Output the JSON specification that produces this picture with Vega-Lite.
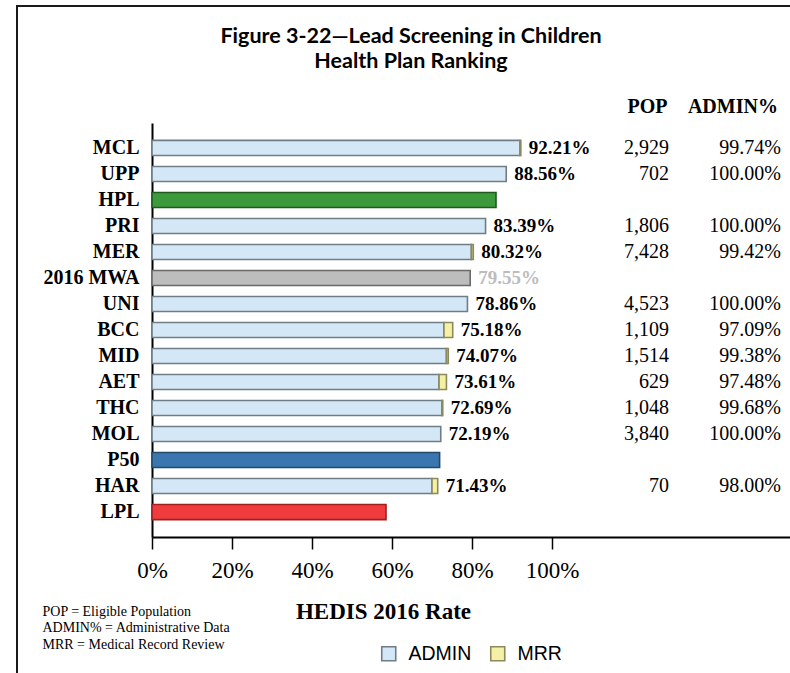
{
  "$schema": "https://vega.github.io/schema/vega-lite/v6.json",
  "width": 773,
  "height": 667,
  "autosize": {"type": "none"},
  "padding": {"left": 17, "top": 6, "right": 0, "bottom": 0},
  "background": "white",
  "config": {
    "view": {"stroke": "#1a1a1a", "strokeWidth": 2, "strokeDash": [773, 1440, 667]},
    "axis": {"grid": false}
  },
  "title": {
    "text": ["Figure 3-22\u2014Lead Screening in Children", "Health Plan Ranking"],
    "font": "Lato",
    "fontWeight": "bold",
    "fontSize": 21.5,
    "lineHeight": 25,
    "color": "black",
    "anchor": "middle",
    "frame": "group",
    "offset": -66,
    "dx": 7.5
  },
  "datasets": {
    "plans": [
      {"plan": "MCL", "kind": "plan", "rate": 0.9221, "pop": 2929, "admin": 0.9974},
      {"plan": "UPP", "kind": "plan", "rate": 0.8856, "pop": 702, "admin": 1.0},
      {"plan": "HPL", "kind": "HPL", "rate": 0.86},
      {"plan": "PRI", "kind": "plan", "rate": 0.8339, "pop": 1806, "admin": 1.0},
      {"plan": "MER", "kind": "plan", "rate": 0.8032, "pop": 7428, "admin": 0.9942},
      {"plan": "2016 MWA", "kind": "MWA", "rate": 0.7955},
      {"plan": "UNI", "kind": "plan", "rate": 0.7886, "pop": 4523, "admin": 1.0},
      {"plan": "BCC", "kind": "plan", "rate": 0.7518, "pop": 1109, "admin": 0.9709},
      {"plan": "MID", "kind": "plan", "rate": 0.7407, "pop": 1514, "admin": 0.9938},
      {"plan": "AET", "kind": "plan", "rate": 0.7361, "pop": 629, "admin": 0.9748},
      {"plan": "THC", "kind": "plan", "rate": 0.7269, "pop": 1048, "admin": 0.9968},
      {"plan": "MOL", "kind": "plan", "rate": 0.7219, "pop": 3840, "admin": 1.0},
      {"plan": "P50", "kind": "P50", "rate": 0.719},
      {"plan": "HAR", "kind": "plan", "rate": 0.7143, "pop": 70, "admin": 0.98},
      {"plan": "LPL", "kind": "LPL", "rate": 0.585}
    ],
    "segments": [
      {"plan": "MCL", "part": "ADMIN", "value": 0.9197},
      {"plan": "MCL", "part": "MRR", "value": 0.0024},
      {"plan": "UPP", "part": "ADMIN", "value": 0.8856},
      {"plan": "HPL", "part": "HPL", "value": 0.86},
      {"plan": "PRI", "part": "ADMIN", "value": 0.8339},
      {"plan": "MER", "part": "ADMIN", "value": 0.7985},
      {"plan": "MER", "part": "MRR", "value": 0.0047},
      {"plan": "2016 MWA", "part": "MWA", "value": 0.7955},
      {"plan": "UNI", "part": "ADMIN", "value": 0.7886},
      {"plan": "BCC", "part": "ADMIN", "value": 0.7299},
      {"plan": "BCC", "part": "MRR", "value": 0.0219},
      {"plan": "MID", "part": "ADMIN", "value": 0.7361},
      {"plan": "MID", "part": "MRR", "value": 0.0046},
      {"plan": "AET", "part": "ADMIN", "value": 0.7176},
      {"plan": "AET", "part": "MRR", "value": 0.0185},
      {"plan": "THC", "part": "ADMIN", "value": 0.7246},
      {"plan": "THC", "part": "MRR", "value": 0.0023},
      {"plan": "MOL", "part": "ADMIN", "value": 0.7219},
      {"plan": "P50", "part": "P50", "value": 0.719},
      {"plan": "HAR", "part": "ADMIN", "value": 0.7},
      {"plan": "HAR", "part": "MRR", "value": 0.0143},
      {"plan": "LPL", "part": "LPL", "value": 0.585}
    ]
  },
  "layer": [
    {
      "data": {"name": "segments"},
      "mark": {"type": "bar", "strokeWidth": 1.6},
      "encoding": {
        "y": {
          "field": "plan", "type": "nominal",
          "scale": {"domain": ["MCL","UPP","HPL","PRI","MER","2016 MWA","UNI","BCC","MID","AET","THC","MOL","P50","HAR","LPL"], "range": [117, 531], "paddingInner": 0.42, "paddingOuter": 0.67},
          "axis": {
            "orient": "left", "offset": -135,
            "domainColor": "black", "domainWidth": 2,
            "ticks": false, "tickSize": 0, "labelPadding": 13,
            "labelFont": "Liberation Serif", "labelFontWeight": "bold", "labelFontSize": 20, "labelColor": "black",
            "title": ["POP = Eligible Population", "ADMIN% = Administrative Data", "MRR = Medical Record Review"],
            "titleX": -110, "titleY": 609.5, "titleAngle": 0, "titleAlign": "left", "titleBaseline": "alphabetic",
            "titleFont": "Liberation Serif", "titleFontWeight": "normal", "titleFontSize": 14, "titleLineHeight": 16.3, "titleColor": "black"
          }
        },
        "x": {
          "field": "value", "type": "quantitative", "stack": "zero",
          "scale": {"domain": [0, 1.6], "range": [135, 775], "nice": false, "zero": true},
          "axis": {
            "orient": "bottom", "offset": -136,
            "values": [0, 0.2, 0.4, 0.6, 0.8, 1.0], "format": ".0%",
            "domainColor": "black", "domainWidth": 2,
            "tickColor": "black", "tickWidth": 1.5, "tickSize": 12,
            "labelFont": "Liberation Serif", "labelFontSize": 23, "labelColor": "black", "labelPadding": 10,
            "labelFlush": false, "labelOverlap": false,
            "title": "HEDIS 2016 Rate",
            "titleFont": "Liberation Serif", "titleFontWeight": "bold", "titleFontSize": 23, "titleColor": "black",
            "titleX": 366, "titleY": 81, "titleBaseline": "alphabetic", "titleAlign": "center"
          }
        },
        "color": {
          "field": "part", "type": "nominal",
          "scale": {"domain": ["ADMIN","MRR","HPL","MWA","P50","LPL"], "range": ["#d3e7f6","#f4f0a6","#3c9a3c","#bdbdbd","#3b77ae","#f03c3c"]},
          "legend": {
            "orient": "none", "legendX": 362, "legendY": 638, "direction": "horizontal",
            "values": ["ADMIN","MRR"], "title": null,
            "symbolType": "square", "symbolSize": 196, "symbolStrokeColor": "#6f7d86", "symbolStrokeWidth": 1.6, "symbolOpacity": 1,
            "labelFont": "Liberation Sans", "labelFontSize": 19.5, "labelColor": "black", "labelOffset": 10,
            "columnPadding": 15, "padding": 0
          }
        },
        "stroke": {
          "field": "part", "type": "nominal",
          "scale": {"domain": ["ADMIN","MRR","HPL","MWA","P50","LPL"], "range": ["#6f7d86","#8c8a5c","#1e5a1e","#6a6a6a","#23496f","#9e2020"]},
          "legend": null
        },
        "order": {"field": "part", "sort": "ascending"}
      }
    },
    {
      "data": {"name": "plans"},
      "transform": [{"filter": "datum.kind === 'plan' || datum.kind === 'MWA'"}],
      "mark": {"type": "text", "align": "left", "dx": 8, "font": "Liberation Serif", "fontWeight": "bold", "fontSize": 19},
      "encoding": {
        "y": {
          "field": "plan", "type": "nominal",
          "scale": {"domain": ["MCL","UPP","HPL","PRI","MER","2016 MWA","UNI","BCC","MID","AET","THC","MOL","P50","HAR","LPL"], "range": [117, 531], "paddingInner": 0.42, "paddingOuter": 0.67}
        },
        "x": {"field": "rate", "type": "quantitative", "scale": {"domain": [0, 1.6], "range": [135, 775], "nice": false, "zero": true}, "axis": null},
        "text": {"field": "rate", "format": ".2%"},
        "color": {"condition": {"test": "datum.kind === 'MWA'", "value": "#bcbcbc"}, "value": "black"}
      }
    },
    {
      "data": {"name": "plans"},
      "transform": [{"filter": "isValid(datum.pop)"}],
      "mark": {"type": "text", "align": "right", "font": "Liberation Serif", "fontSize": 20},
      "encoding": {
        "y": {
          "field": "plan", "type": "nominal",
          "scale": {"domain": ["MCL","UPP","HPL","PRI","MER","2016 MWA","UNI","BCC","MID","AET","THC","MOL","P50","HAR","LPL"], "range": [117, 531], "paddingInner": 0.42, "paddingOuter": 0.67}
        },
        "x": {
          "datum": 1.2925, "type": "quantitative",
          "scale": {"domain": [0, 1.6], "range": [135, 775], "nice": false, "zero": true},
          "axis": {
            "orient": "top", "offset": -106,
            "values": [1.2375, 1.451],
            "labelExpr": "datum.value < 1.3 ? 'POP' : 'ADMIN%'",
            "domain": false, "ticks": false, "tickSize": 0, "labelPadding": 0,
            "labelBaseline": "alphabetic", "labelFlush": false, "labelOverlap": false,
            "labelFont": "Liberation Serif", "labelFontWeight": "bold", "labelFontSize": 20, "labelColor": "black",
            "title": null
          }
        },
        "text": {"field": "pop", "format": ","},
        "color": {"value": "black"}
      }
    },
    {
      "data": {"name": "plans"},
      "transform": [{"filter": "isValid(datum.admin)"}],
      "mark": {"type": "text", "align": "right", "font": "Liberation Serif", "fontSize": 20},
      "encoding": {
        "y": {
          "field": "plan", "type": "nominal",
          "scale": {"domain": ["MCL","UPP","HPL","PRI","MER","2016 MWA","UNI","BCC","MID","AET","THC","MOL","P50","HAR","LPL"], "range": [117, 531], "paddingInner": 0.42, "paddingOuter": 0.67}
        },
        "x": {"datum": 1.5725, "type": "quantitative", "scale": {"domain": [0, 1.6], "range": [135, 775], "nice": false, "zero": true}, "axis": null},
        "text": {"field": "admin", "format": ".2%"},
        "color": {"value": "black"}
      }
    }
  ],
  "resolve": {"axis": {"x": "independent"}}
}
